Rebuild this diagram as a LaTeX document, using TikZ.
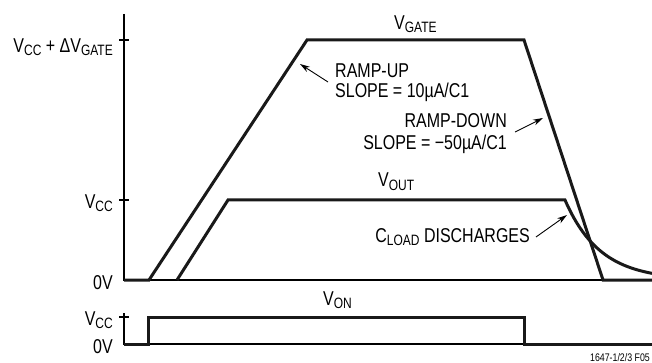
\documentclass[tikz,border=0pt]{standalone}
\usepackage{fontspec}
\setmainfont{Liberation Sans}[FakeStretch=0.8]
\usetikzlibrary{arrows.meta}
\newcommand{\sbs}[1]{\raisebox{-3pt}{\fontsize{15}{15}\selectfont #1}}
\newcommand{\lblfont}{\fontsize{20}{22}\selectfont}
\begin{document}
\begin{tikzpicture}[x=1pt,y=-1pt,
  thinline/.style={line width=1.2pt,black},
  thk/.style={line width=3pt,black!90},
  lbl/.style={inner sep=0pt,font=\lblfont},
  ptr/.style={line width=0.9pt,-{Stealth[length=10pt,width=6pt]}}]
\useasboundingbox (0,0) rectangle (652,363);
% axes
\coordinate (at) at (124,14);
\coordinate (ab) at (124,280);
\coordinate (ar) at (652,280);
\draw[thinline] (at) -- (ab) -- (ar);
\draw[thinline] (119,40) -- (129,40);
\draw[thinline] (119,200) -- (129,200);
\coordinate (bt) at (124,313);
\coordinate (bb) at (124,344);
\coordinate (br) at (652,344);
\draw[thinline] (bt) -- (bb) -- (br);
\draw[thinline] (119,317) -- (129,317);
% waveforms
\draw[thk] (124,280) -- (149,280) -- (307,40) -- (524,40) -- (603,280) -- (652,280);
\draw[thk] (177,280) -- (228,200) -- (565,200) -- plot[domain=565:652,samples=50] (\x,{200+80*(1-exp(-(\x-565)/35))});
\draw[thk] (124,344) -- (148,344) -- (148,317) -- (524,317) -- (524,344) -- (652,344);
% labels
\node[lbl,anchor=base east] (lg) at (113,53) {V\sbs{CC} + ΔV\sbs{GATE}};
\node[lbl,anchor=base east] (lc) at (113,208) {V\sbs{CC}};
\node[lbl,anchor=base east] (l0) at (113,289) {0V};
\node[lbl,anchor=base east] (lc2) at (113,325) {V\sbs{CC}};
\node[lbl,anchor=base east] (l02) at (113,353) {0V};
\node[lbl,anchor=base west] (vg) at (394,30) {V\sbs{GATE}};
\node[lbl,anchor=base west] (ru) at (335,78) {RAMP-UP};
\node[lbl,anchor=base west] (rus) at (335,98) {SLOPE = 10µA/C1};
\node[lbl,anchor=base east] (rd) at (507,128) {RAMP-DOWN};
\node[lbl,anchor=base east] (rds) at (507,150) {SLOPE = −50µA/C1};
\node[lbl,anchor=base west] (vo) at (378,187) {V\sbs{OUT}};
\node[lbl,anchor=base east] (cl) at (530,242) {C\sbs{LOAD} DISCHARGES};
\node[lbl,anchor=base west] (von) at (323,305) {V\sbs{ON}};
\node[inner sep=0pt,anchor=base east,font=\fontsize{11}{12}\selectfont] (fn) at (650,361) {1647-1/2/3 F05};
% pointers
\coordinate (rut) at (328,82);
\coordinate (ruh) at (300,64);
\draw[ptr] (rut) -- (ruh);
\coordinate (rdt) at (515,132);
\coordinate (rdh) at (543,118);
\draw[ptr] (rdt) -- (rdh);
\coordinate (clt) at (536,237);
\coordinate (clh) at (567,215);
\draw[ptr] (clt) -- (clh);
\end{tikzpicture}
\end{document}
